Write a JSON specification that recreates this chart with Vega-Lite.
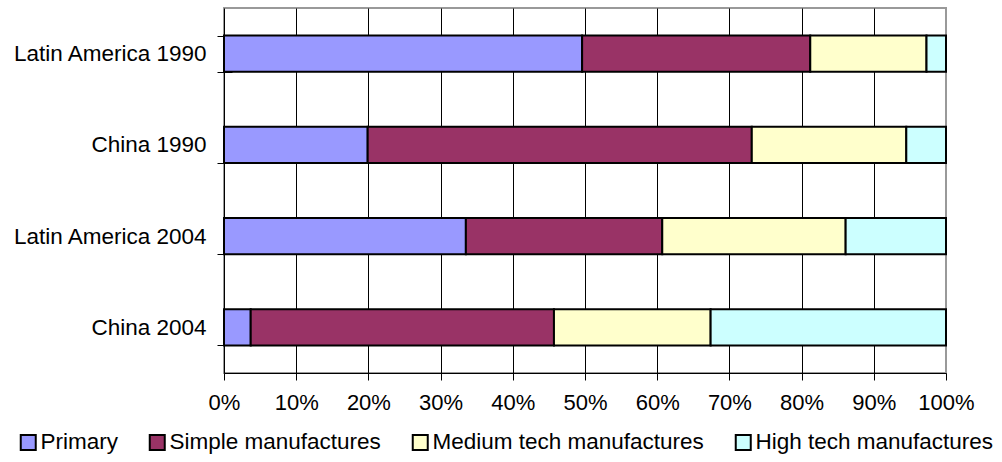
{
  "$schema": "https://vega.github.io/schema/vega-lite/v6.json",
  "width": 722,
  "height": 365,
  "autosize": {"type": "none"},
  "padding": {"left": 224, "top": 8, "right": 56, "bottom": 89},
  "background": "white",
  "data": {
    "values": [
      {"region": "Latin America 1990", "sector": "Primary", "order": 1, "share": 49.6},
      {"region": "Latin America 1990", "sector": "Simple manufactures", "order": 2, "share": 31.6},
      {"region": "Latin America 1990", "sector": "Medium tech manufactures", "order": 3, "share": 16.1},
      {"region": "Latin America 1990", "sector": "High tech manufactures", "order": 4, "share": 2.7},
      {"region": "China 1990", "sector": "Primary", "order": 1, "share": 19.9},
      {"region": "China 1990", "sector": "Simple manufactures", "order": 2, "share": 53.2},
      {"region": "China 1990", "sector": "Medium tech manufactures", "order": 3, "share": 21.4},
      {"region": "China 1990", "sector": "High tech manufactures", "order": 4, "share": 5.5},
      {"region": "Latin America 2004", "sector": "Primary", "order": 1, "share": 33.5},
      {"region": "Latin America 2004", "sector": "Simple manufactures", "order": 2, "share": 27.2},
      {"region": "Latin America 2004", "sector": "Medium tech manufactures", "order": 3, "share": 25.4},
      {"region": "Latin America 2004", "sector": "High tech manufactures", "order": 4, "share": 13.9},
      {"region": "China 2004", "sector": "Primary", "order": 1, "share": 3.7},
      {"region": "China 2004", "sector": "Simple manufactures", "order": 2, "share": 42.0},
      {"region": "China 2004", "sector": "Medium tech manufactures", "order": 3, "share": 21.7},
      {"region": "China 2004", "sector": "High tech manufactures", "order": 4, "share": 32.6}
    ]
  },
  "config": {
    "font": "Liberation Sans",
    "view": {"stroke": "#999999", "strokeWidth": 2},
    "axis": {
      "labelColor": "black",
      "domainColor": "black",
      "tickColor": "black",
      "domainWidth": 1,
      "tickWidth": 1
    }
  },
  "mark": {"type": "bar", "stroke": "black", "strokeWidth": 2},
  "encoding": {
    "y": {
      "field": "region",
      "type": "nominal",
      "sort": ["Latin America 1990", "China 1990", "Latin America 2004", "China 2004"],
      "scale": {"paddingInner": 0.605, "paddingOuter": 0.3025},
      "axis": {
        "title": null,
        "grid": false,
        "domain": false,
        "offset": -8,
        "tickBand": "extent",
        "tickSize": 15,
        "labelPadding": 11,
        "labelFontSize": 22.5,
        "labelLimit": 300
      }
    },
    "x": {
      "field": "share",
      "type": "quantitative",
      "stack": "zero",
      "scale": {"domain": [0, 100], "nice": false},
      "axis": {
        "title": null,
        "values": [0, 10, 20, 30, 40, 50, 60, 70, 80, 90, 100],
        "labelExpr": "datum.value + '%'",
        "grid": true,
        "gridColor": {"condition": {"test": "datum.value === 100", "value": "#999999"}, "value": "black"},
        "gridOpacity": 1,
        "gridWidth": 1,
        "tickSize": 7,
        "labelPadding": 12,
        "labelFontSize": 22,
        "labelFlush": false,
        "labelOverlap": false
      }
    },
    "color": {
      "field": "sector",
      "type": "nominal",
      "scale": {
        "domain": ["Primary", "Simple manufactures", "Medium tech manufactures", "High tech manufactures"],
        "range": ["#9999FF", "#993366", "#FFFFCC", "#CCFFFF"]
      },
      "legend": {
        "title": null,
        "orient": "none",
        "legendX": -207,
        "legendY": 423,
        "direction": "horizontal",
        "padding": 0,
        "symbolType": "square",
        "symbolSize": 225,
        "symbolStrokeColor": "black",
        "symbolStrokeWidth": 2,
        "symbolOpacity": 1,
        "labelFontSize": 22.5,
        "labelColor": "black",
        "labelOffset": 1,
        "labelLimit": 400,
        "columnPadding": 27
      }
    },
    "order": {"field": "order", "type": "quantitative"}
  }
}
